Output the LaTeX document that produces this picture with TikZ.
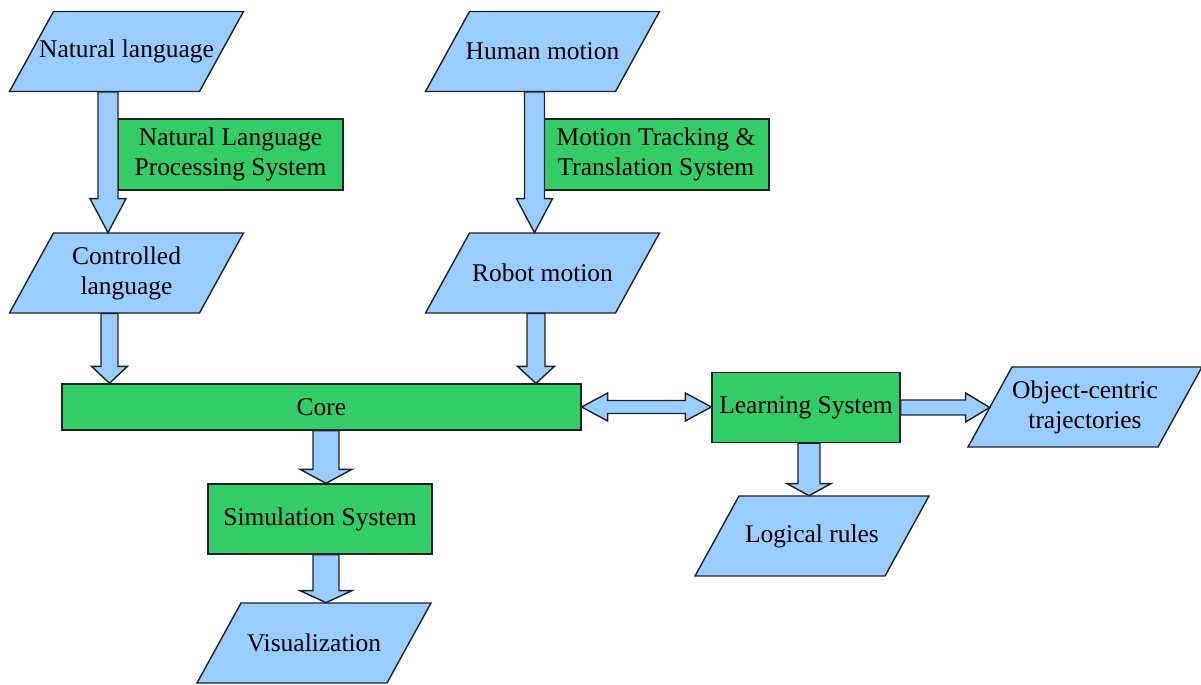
\documentclass[tikz,border=0pt]{standalone}
\usepackage{fontspec}
\setmainfont{Liberation Serif}
\usepackage{tikz}
\usetikzlibrary{calc}

\definecolor{iofill}{HTML}{99CCFF}
\definecolor{procfill}{HTML}{34CC66}
\definecolor{edge}{HTML}{222222}

% slanted input/output box: name, centre, text
\newcommand\ionode[3]{%
  \filldraw[ioshape] ($(#2)+(-73,-40)$) -- ($(#2)+(117,-40)$) -- ($(#2)+(73,40)$) -- ($(#2)+(-117,40)$) -- cycle;
  \node[io] (#1) at (#2) {#3};}
% fat outlined arrow: from, to, half shaft, half head, head length
\newcommand\fatarrow[5]{%
  \coordinate (fa-h) at ($(#2)!#5!(#1)$);
  \filldraw[fatarrow] ($(#1)!#3!90:(#2)$) -- ($(fa-h)!#3!90:(#2)$) -- ($(fa-h)!#4!90:(#2)$)
    -- (#2) -- ($(fa-h)!#4!-90:(#2)$) -- ($(fa-h)!#3!-90:(#2)$) -- ($(#1)!#3!-90:(#2)$) -- cycle;}
% same with a head at both ends
\newcommand\fatdarrow[5]{%
  \coordinate (fa-s) at ($(#1)!#5!(#2)$);
  \coordinate (fa-e) at ($(#2)!#5!(#1)$);
  \filldraw[fatarrow] (#1) -- ($(fa-s)!#4!90:(#2)$) -- ($(fa-s)!#3!90:(#2)$) -- ($(fa-e)!#3!90:(#2)$)
    -- ($(fa-e)!#4!90:(#2)$) -- (#2) -- ($(fa-e)!#4!-90:(#2)$) -- ($(fa-e)!#3!-90:(#2)$)
    -- ($(fa-s)!#3!-90:(#2)$) -- ($(fa-s)!#4!-90:(#2)$) -- cycle;}

\begin{document}
\begin{tikzpicture}[x=0.02cm, y=-0.02cm,
    every node/.style={font=\fontsize{14.5}{17}\selectfont, text=black},
    ioshape/.style={draw=edge, line width=0.8pt, fill=iofill, line join=miter},
    io/.style={rectangle, minimum width=3.8cm, minimum height=1.6cm, inner sep=1pt, align=center},
    proc/.style={rectangle, draw=edge, line width=0.8pt, fill=procfill,
      inner sep=1pt, align=center},
    fatarrow/.style={draw=edge, line width=0.8pt, fill=iofill, line join=miter}]
  \useasboundingbox (0,0) rectangle (1201,685);

  % inputs
  \ionode{nl}{126.5,51.5}{Natural language}
  \ionode{cl}{126.5,273}{Controlled\\language}
  \ionode{hm}{542.5,51.5}{Human motion}
  \ionode{rm}{542.5,273}{Robot motion}

  % systems
  \node[proc, minimum width=4.5cm, minimum height=1.42cm] (nlp) at (230.5,154.5) {Natural Language\\Processing System};
  \node[proc, minimum width=4.52cm, minimum height=1.42cm] (mts) at (656,154.5) {Motion Tracking \&\\Translation System};
  \node[proc, minimum width=10.38cm, minimum height=0.92cm] (core) at (321.5,407) {Core};
  \node[proc, minimum width=3.76cm, minimum height=1.4cm] (ls) at (806,407.5) {Learning System};
  \node[proc, minimum width=4.48cm, minimum height=1.4cm] (ss) at (320,519) {Simulation System};

  % outputs
  \ionode{oc}{1085,407}{Object-centric\\trajectories}
  \ionode{lr}{812,536}{Logical rules}
  \ionode{vis}{314,643}{Visualization}

  % arrows
  \coordinate (a1s) at ($(nl.south)+(-18.5,0)$);
  \coordinate (a1e) at (a1s |- cl.north);
  \fatarrow{a1s}{a1e}{0.2cm}{0.36cm}{0.68cm}
  \coordinate (a2s) at ($(cl.south)+(-17,0)$);
  \coordinate (a2e) at (a2s |- core.north);
  \fatarrow{a2s}{a2e}{0.17cm}{0.36cm}{0.34cm}
  \coordinate (a3s) at ($(hm.south)+(-8,0)$);
  \coordinate (a3e) at (a3s |- rm.north);
  \fatarrow{a3s}{a3e}{0.2cm}{0.36cm}{0.68cm}
  \coordinate (a4s) at ($(rm.south)+(-6.5,0)$);
  \coordinate (a4e) at (a4s |- core.north);
  \fatarrow{a4s}{a4e}{0.18cm}{0.37cm}{0.34cm}
  \coordinate (a5e) at ($(ss.north)+(6,0)$);
  \coordinate (a5s) at (a5e |- core.south);
  \fatarrow{a5s}{a5e}{0.26cm}{0.52cm}{0.28cm}
  \coordinate (a6s) at ($(ss.south)+(6,0)$);
  \coordinate (a6e) at (a6s |- vis.north);
  \fatarrow{a6s}{a6e}{0.26cm}{0.52cm}{0.24cm}
  \coordinate (a7e) at (core.east -| ls.west);
  \fatdarrow{core.east}{a7e}{0.13cm}{0.28cm}{0.52cm}
  \coordinate (a8s) at ($(ls.south)+(3,0)$);
  \coordinate (a8e) at (a8s |- lr.north);
  \fatarrow{a8s}{a8e}{0.22cm}{0.44cm}{0.24cm}
  \coordinate (a9e) at (ls.east -| oc.west);
  \fatarrow{ls.east}{a9e}{0.15cm}{0.29cm}{0.48cm}
\end{tikzpicture}
\end{document}
